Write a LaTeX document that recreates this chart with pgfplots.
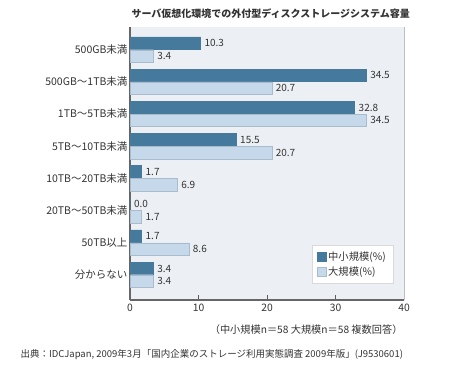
\documentclass[border=0pt]{standalone}
\usepackage{pgfplots}
\pgfplotsset{compat=1.18}
\usepackage{fontspec}
\setmainfont{Noto Sans CJK JP}
\definecolor{darkbar}{HTML}{467A9C}
\definecolor{lightbar}{HTML}{C6D9EA}
\definecolor{lightedge}{HTML}{A9BCCD}
\definecolor{bgc}{HTML}{ECF0F4}
\definecolor{txt}{HTML}{333333}
\begin{document}
\begin{tikzpicture}[x=1pt,y=1pt]
\path (0,0) rectangle (455,370);
\begin{axis}[
  at={(130pt,70pt)}, anchor=south west,
  width=274pt, height=273pt, scale only axis,
  xbar, bar width=0.39,
  xmin=0, xmax=40,
  ymin=-0.7, ymax=7.78, y dir=reverse,
  ytick={0,...,7},
  yticklabels={500GB未満,500GB～1TB未満,1TB～5TB未満,5TB～10TB未満,10TB～20TB未満,20TB～50TB未満,50TB以上,分からない},
  y tick label style={font=\fontsize{10.5}{12}\selectfont, text=txt, xshift=1pt},
  ytick style={draw=none},
  xtick={0,10,20,30,40},
  x tick label style={font=\fontsize{10.3}{12}\selectfont, text=txt},
  /pgf/number format/assume math mode=true,
  tick align=inside, major tick length=5pt,
  xtick style={draw=txt!80, line width=0.8pt},
  axis x line*=bottom, axis y line*=left,
  axis line style={draw=black!60, line width=1.6pt, -},
  axis background/.style={fill=bgc},
  nodes near coords,
  every node near coord/.append style={font=\fontsize{10}{11}\selectfont, text=txt, anchor=west, xshift=0.5pt, /pgf/number format/fixed, /pgf/number format/fixed zerofill, /pgf/number format/precision=1, /pgf/number format/assume math mode=true},
  legend style={at={(0.96,0.062)}, anchor=south east, draw=black!15, fill=white, font=\fontsize{10.3}{12}\selectfont, text=txt, inner xsep=5pt, inner ysep=4pt, row sep=1pt, cells={anchor=west}},
  legend image code/.code={\fill[#1] (0pt,-4.5pt) rectangle (9pt,4.5pt);},
]
\addplot[fill=darkbar, draw=darkbar, bar shift=-0.2] coordinates {(10.3,0) (34.5,1) (32.8,2) (15.5,3) (1.7,4) (0.0,5) (1.7,6) (3.4,7)};
\addplot[fill=lightbar, draw=lightedge, bar shift=0.2] coordinates {(3.4,0) (20.7,1) (34.5,2) (20.7,3) (6.9,4) (1.7,5) (8.6,6) (3.4,7)};
\legend{中小規模(\%),大規模(\%)}
\end{axis}
\draw[black!25, line width=0.6pt] (404,70) -- (404,343);
\node[anchor=west, font=\bfseries\fontsize{10}{12}\selectfont, text=txt] at (128,356) {サーバ仮想化環境での外付型ディスクストレージシステム容量};
\node[anchor=east, font=\fontsize{10.2}{12}\selectfont, text=txt] at (406,40) {（中小規模n＝58 大規模n＝58 複数回答）};
\node[anchor=west, font=\fontsize{9.5}{12}\selectfont, text=txt] at (17,15) {出典：IDCJapan, 2009年3月「国内企業のストレージ利用実態調査 2009年版」(J9530601)};
\end{tikzpicture}
\end{document}
